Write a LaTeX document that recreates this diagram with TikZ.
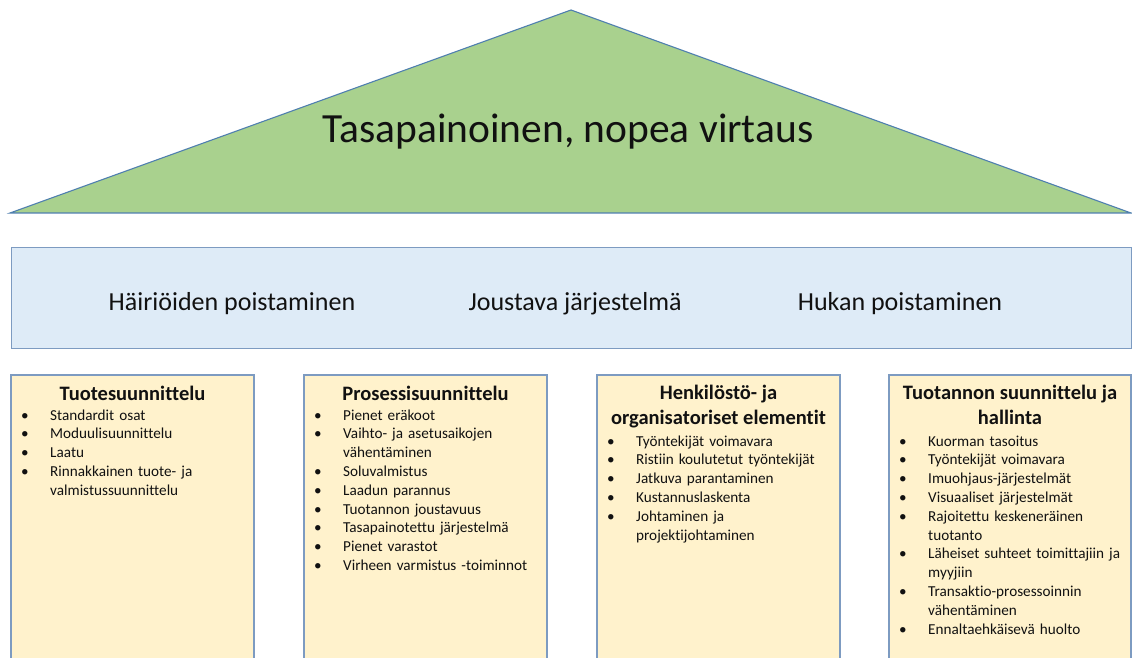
\documentclass[tikz,border=0pt]{standalone}
\usepackage{fontspec}
\setmainfont{Carlito}[Ligatures=NoCommon]
\definecolor{roofgreen}{HTML}{A9D18E}
\definecolor{roofline}{HTML}{4F7FAF}
\definecolor{bandfill}{HTML}{DEEBF7}
\definecolor{boxline}{HTML}{7D9BC1}
\definecolor{pillarfill}{HTML}{FFF2CC}
\definecolor{ink}{HTML}{111111}
% one bulleted entry: bullet in a fixed-width slot, wrapped lines hang under the text
\newcommand{\bitem}[1]{\par\hangindent=30pt\hangafter=1\noindent\rule{0pt}{12pt}\makebox[30pt][l]{\hspace{1pt}\textbullet}#1}
\tikzset{
  roof/.style={fill=roofgreen, draw=roofline, line width=1.1pt, line join=miter},
  band/.style={fill=bandfill, draw=boxline, line width=1.3pt},
  pillar/.style={fill=pillarfill, draw=boxline, line width=1.3pt},
  bandtext/.style={anchor=base, inner sep=0pt, text=ink, font=\fontsize{26}{31}\selectfont},
  pillartitle/.style={anchor=base, inner sep=0pt, text=ink, align=center, font=\bfseries\fontsize{20.5}{25}\selectfont},
  itemlist/.style={anchor=north west, inner sep=0pt, text=ink, text width=240pt, align=left, font=\fontsize{15.2}{18.8}\selectfont},
}
\begin{document}
\begin{tikzpicture}[x=1pt, y=1pt]
\useasboundingbox (0,0) rectangle (1132,657);
\fill[white] (0,0) rectangle (1132,657);

% roof
\coordinate (rl) at (10,444);
\coordinate (rr) at (1131,444);
\coordinate (ra) at (571,647);
\draw[roof] (rl) -- (ra) -- (rr) -- cycle;
\node[anchor=base, inner sep=0pt, text=ink, font=\fontsize{41.5}{50}\selectfont] (roofTitle) at (568,514) {Tasapainoinen, nopea virtaus};

% band
\node[band, anchor=south west, minimum width=1120pt, minimum height=101pt, inner sep=0pt] (bandBox) at (11,308) {};
\node[bandtext] (b1) at (232,347) {Häiriöiden poistaminen};
\node[bandtext] (b2) at (575,347) {Joustava järjestelmä};
\node[bandtext] (b3) at (900,347) {Hukan poistaminen};

% pillars
\draw[pillar] (11,-10) rectangle (254,282);
\draw[pillar] (304,-10) rectangle (547,282);
\draw[pillar] (597,-10) rectangle (840,282);
\draw[pillar] (889,-10) rectangle (1131,282);

\node[pillartitle] (t1) at (132.5,257) {Tuotesuunnittelu};
\node[pillartitle] (t2) at (425.5,257) {Prosessisuunnittelu};
\node[pillartitle] (t3) at (718.5,233) {Henkilöstö- ja\\organisatoriset elementit};
\node[pillartitle] (t4) at (1010,233) {Tuotannon suunnittelu ja\\hallinta};

\node[itemlist] (l1) at (20,256) {%
\bitem{Standardit osat}
\bitem{Moduulisuunnittelu}
\bitem{Laatu}
\bitem{Rinnakkainen tuote- ja\newline valmistussuunnittelu}\par};

\node[itemlist] (l2) at (313,256) {%
\bitem{Pienet eräkoot}
\bitem{Vaihto- ja asetusaikojen\newline vähentäminen}
\bitem{Soluvalmistus}
\bitem{Laadun parannus}
\bitem{Tuotannon joustavuus}
\bitem{Tasapainotettu järjestelmä}
\bitem{Pienet varastot}
\bitem{Virheen varmistus -toiminnot}\par};

\node[itemlist] (l3) at (606,230) {%
\bitem{Työntekijät voimavara}
\bitem{Ristiin koulutetut työntekijät}
\bitem{Jatkuva parantaminen}
\bitem{Kustannuslaskenta}
\bitem{Johtaminen ja\newline projektijohtaminen}\par};

\node[itemlist] (l4) at (898,230) {%
\bitem{Kuorman tasoitus}
\bitem{Työntekijät voimavara}
\bitem{Imuohjaus-järjestelmät}
\bitem{Visuaaliset järjestelmät}
\bitem{Rajoitettu keskeneräinen\newline tuotanto}
\bitem{Läheiset suhteet toimittajiin ja\newline myyjiin}
\bitem{Transaktio-prosessoinnin\newline vähentäminen}
\bitem{Ennaltaehkäisevä huolto}\par};
\end{tikzpicture}
\end{document}
